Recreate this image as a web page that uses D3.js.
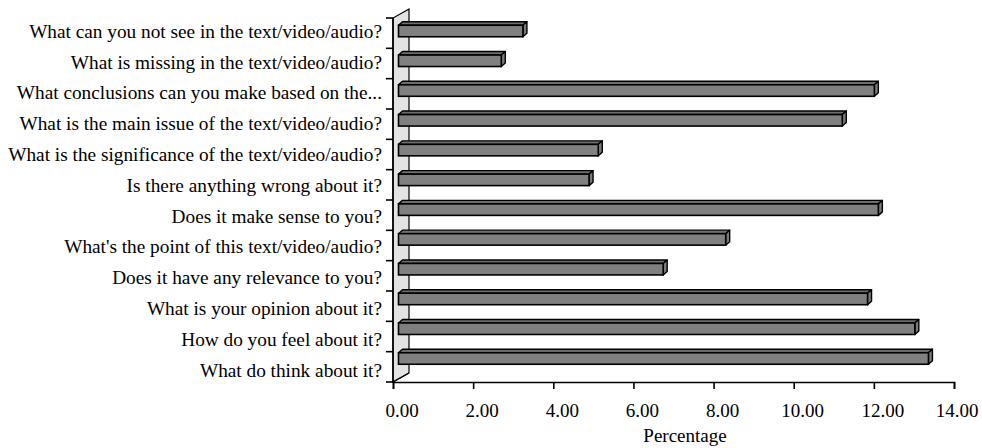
<!DOCTYPE html>
<html>
<head>
<meta charset="utf-8">
<script src="https://cdn.jsdelivr.net/npm/d3@7"></script>
<style>
  html, body { margin: 0; padding: 0; background: #fff; }
  svg { display: block; }
  text { font-family: "Liberation Serif", "Times New Roman", serif; fill: #000; }
</style>
</head>
<body>
<svg id="chart" width="982" height="448"></svg>
<script>
// ---- data (top of chart to bottom) ----
const categories = [
  "What can you not see in the text/video/audio?",
  "What is missing in the text/video/audio?",
  "What conclusions can you make based on the...",
  "What is the main issue of the text/video/audio?",
  "What is the significance of the text/video/audio?",
  "Is there anything wrong about it?",
  "Does it make sense to you?",
  "What's the point of this text/video/audio?",
  "Does it have any relevance to you?",
  "What is your opinion about it?",
  "How do you feel about it?",
  "What do think about it?"
];
const percentages = [3.13, 2.59, 11.90, 11.10, 5.01, 4.78, 12.00, 8.19, 6.63, 11.73, 12.91, 13.25];
const xTicks = [0, 2, 4, 6, 8, 10, 12, 14];
const xTitle = "Percentage";

// ---- layout ----
const W = 982;
const svg = d3.select("#chart");
const plotTop = 18, plotBottom = 382;
const wallDX = 16, wallDY = 9;      // depth of the 3D back wall
const barDX = 4, barDY = 3.5;       // depth of each bar
const barH = 11.5;

const x = d3.scaleLinear().domain([0, 14]).range([393, 954]);
const yBand = d3.scaleBand().domain(categories).range([plotTop, plotBottom]);
const yLabel = d3.scalePoint().domain(categories).range([37.7, 376.5]);
const yBar = d3.scalePoint().domain(categories).range([31, 358.5]);

// back/side wall
const x0 = x(0);
svg.append("path")
  .attr("d", `M${x0},${plotBottom} L${x0},${plotTop} L${x0 + wallDX},${plotTop - wallDY} L${x0 + wallDX},${plotBottom - wallDY} Z`)
  .attr("fill", "#e3e3e3")
  .attr("stroke", "#000")
  .attr("stroke-width", 1.2);

// y-axis line + category ticks
svg.append("line")
  .attr("x1", x0).attr("x2", x0).attr("y1", plotTop).attr("y2", plotBottom)
  .attr("stroke", "#000").attr("stroke-width", 1.6);
const catTickYs = categories.map(c => yBand(c)).concat([plotBottom]);
svg.selectAll("line.ctick").data(catTickYs).enter().append("line")
  .attr("class", "ctick")
  .attr("x1", x0 - 7).attr("x2", x0)
  .attr("y1", d => d).attr("y2", d => d)
  .attr("stroke", "#000").attr("stroke-width", 1.6);

// category labels
svg.selectAll("text.cat").data(categories).enter().append("text")
  .attr("class", "cat")
  .attr("x", 382)
  .attr("y", d => yLabel(d))
  .attr("text-anchor", "end")
  .attr("font-size", "19.3px")
  .text(d => d);

// x-axis
const xAxis = d3.axisBottom(x).tickValues(xTicks).tickSize(7).tickFormat(d3.format(".2f"));
const gx = svg.append("g").attr("transform", `translate(0,${plotBottom})`).call(xAxis);
gx.select(".domain").attr("stroke", "#000").attr("stroke-width", 1.6);
gx.selectAll(".tick line").attr("stroke", "#000").attr("stroke-width", 1.6);
gx.selectAll(".tick text")
  .attr("font-family", "Liberation Serif, Times New Roman, serif")
  .attr("font-size", "19px")
  .attr("fill", "#000")
  .attr("dy", 0)
  .attr("y", 35)
  .attr("dx", function(d) {
    const w = this.getComputedTextLength();
    const room = (W - 4) - (x(d) + w / 2);
    return Math.min(8.5, room);
  });

svg.append("text")
  .attr("x", 685).attr("y", 442)
  .attr("text-anchor", "middle")
  .attr("font-size", "19px")
  .text(xTitle);

// floor edge of the wall
svg.append("line")
  .attr("x1", x0).attr("y1", plotBottom)
  .attr("x2", x0 + wallDX).attr("y2", plotBottom - wallDY)
  .attr("stroke", "#000").attr("stroke-width", 1.2);

// 3D bars
const data = categories.map((c, i) => ({ c, v: percentages[i] }));
const barStart = x(0) + 5.5;
const g = svg.selectAll("g.bar").data(data).enter().append("g").attr("class", "bar");
const front = d => ({ xl: barStart, xr: x(d.v) + 4.5, yt: yBar(d.c) - barH / 2, yb: yBar(d.c) + barH / 2 });

g.append("path") // top face
  .attr("d", d => { const f = front(d);
    return `M${f.xl},${f.yt} L${f.xl + barDX},${f.yt - barDY} L${f.xr + barDX},${f.yt - barDY} L${f.xr},${f.yt} Z`; })
  .attr("fill", "#6e6e6e").attr("stroke", "#000").attr("stroke-width", 1.4).attr("stroke-linejoin", "round");
g.append("path") // side (end) face
  .attr("d", d => { const f = front(d);
    return `M${f.xr},${f.yt} L${f.xr + barDX},${f.yt - barDY} L${f.xr + barDX},${f.yb - barDY} L${f.xr},${f.yb} Z`; })
  .attr("fill", "#7a7a7a").attr("stroke", "#000").attr("stroke-width", 1.4).attr("stroke-linejoin", "round");
g.append("rect") // front face
  .attr("x", d => front(d).xl)
  .attr("y", d => front(d).yt)
  .attr("width", d => front(d).xr - front(d).xl)
  .attr("height", barH)
  .attr("fill", "#808080").attr("stroke", "#000").attr("stroke-width", 1.6);
</script>
</body>
</html>
